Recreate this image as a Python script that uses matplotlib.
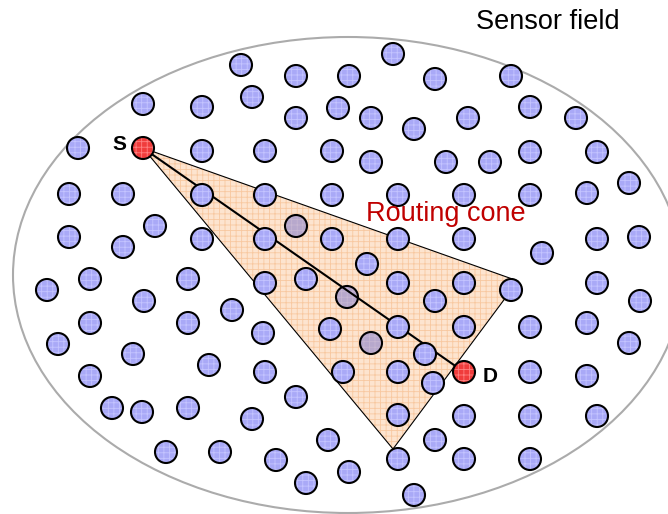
import matplotlib.pyplot as plt
from matplotlib.patches import Circle, Ellipse, Polygon

plt.rcParams['font.family'] = ['Liberation Sans', 'DejaVu Sans']
plt.rcParams['hatch.linewidth'] = 0.6

# sensor nodes (pixel coords of the picture)
node_x = [241, 296, 349, 393, 435, 511,
          143, 202, 252, 296, 338, 371, 414, 468, 530, 576,
          78, 202, 265, 332, 371, 446, 490, 530, 597,
          69, 123, 202, 265, 332, 398, 464, 530, 587, 629,
          155, 69, 123, 202, 265, 332, 398, 464, 542, 597, 639,
          367, 90, 47, 188, 265, 306, 398, 464, 511, 597,
          144, 232, 435, 640,
          90, 188, 263, 330, 398, 464, 530, 587,
          58, 133, 209, 425, 629,
          90, 265, 343, 398, 530, 587,
          433, 296, 112, 142, 188, 398, 464, 530, 597,
          252, 328, 435, 166, 220, 276, 398, 464, 530,
          349, 306, 414]
node_y = [65, 76, 76, 54, 79, 76,
          104, 107, 97, 118, 108, 118, 129, 118, 107, 118,
          148, 151, 151, 151, 162, 162, 162, 152, 152,
          194, 194, 195, 195, 195, 195, 195, 195, 193, 183,
          226, 237, 247, 239, 239, 239, 239, 239, 253, 239, 237,
          264, 279, 290, 279, 283, 279, 283, 283, 290, 283,
          301, 310, 301, 301,
          323, 323, 333, 329, 327, 327, 327, 323,
          344, 354, 365, 354, 343,
          376, 372, 372, 372, 372, 376,
          383, 397, 408, 412, 408, 415, 416, 416, 416,
          419, 440, 440, 452, 452, 460, 459, 459, 459,
          472, 483, 495]

# nodes seen through the cone
hidden_x = [296, 347, 371]
hidden_y = [226, 297, 343]

src = (143, 148)
dst = (464, 372)
cone_x = [143, 518, 393]
cone_y = [148, 281, 449]

fig = plt.figure(figsize=(6.68, 5.14), dpi=100)
ax = fig.add_axes([0, 0, 1, 1])
ax.set_xlim(0, 668)
ax.set_ylim(514, 0)
ax.set_aspect('equal')
ax.axis('off')

ax.add_patch(Ellipse((348, 275), 670, 476, fill=False, ec='#ababab', lw=1.5, zorder=1))

R = 11


def node(x, y, fc, hc, z):
    ax.add_patch(Circle((x, y), R, fc=fc, ec=hc, hatch='+++', lw=0, zorder=z))
    ax.add_patch(Circle((x, y), R, fill=False, ec='black', lw=1.5, zorder=z + 0.1))


ax.add_patch(Polygon(list(zip(cone_x, cone_y)), closed=True, fc='#fde4cf',
                     ec='#f8c8a0', hatch='+++', lw=0, zorder=3))
ax.add_patch(Polygon(list(zip(cone_x, cone_y)), closed=True, fill=False,
                     ec='black', lw=0.8, zorder=3.1))

for x, y in zip(hidden_x, hidden_y):
    node(x, y, '#b7a8cc', '#c6b6d2', 3.15)

ax.plot([src[0], dst[0]], [src[1], dst[1]], color='black', lw=1.5, zorder=3.3)

for x, y in zip(node_x, node_y):
    node(x, y, '#a9a9f7', '#c4c4ff', 4)

node(src[0], src[1], '#f03c3c', '#ff8080', 5)
node(dst[0], dst[1], '#f03c3c', '#ff8080', 5)

ax.text(119, 145, 'S', fontsize=15, fontweight='bold', ha='center', va='center', zorder=6)
ax.text(490, 376, 'D', fontsize=15, fontweight='bold', ha='center', va='center', zorder=6)
ax.text(548, 22, 'Sensor field', fontsize=19.5, ha='center', va='center', zorder=6)
ax.text(446, 214, 'Routing cone', fontsize=19.5, color='#c00000', ha='center', va='center', zorder=6)

fig.savefig('out.png', dpi=100)
